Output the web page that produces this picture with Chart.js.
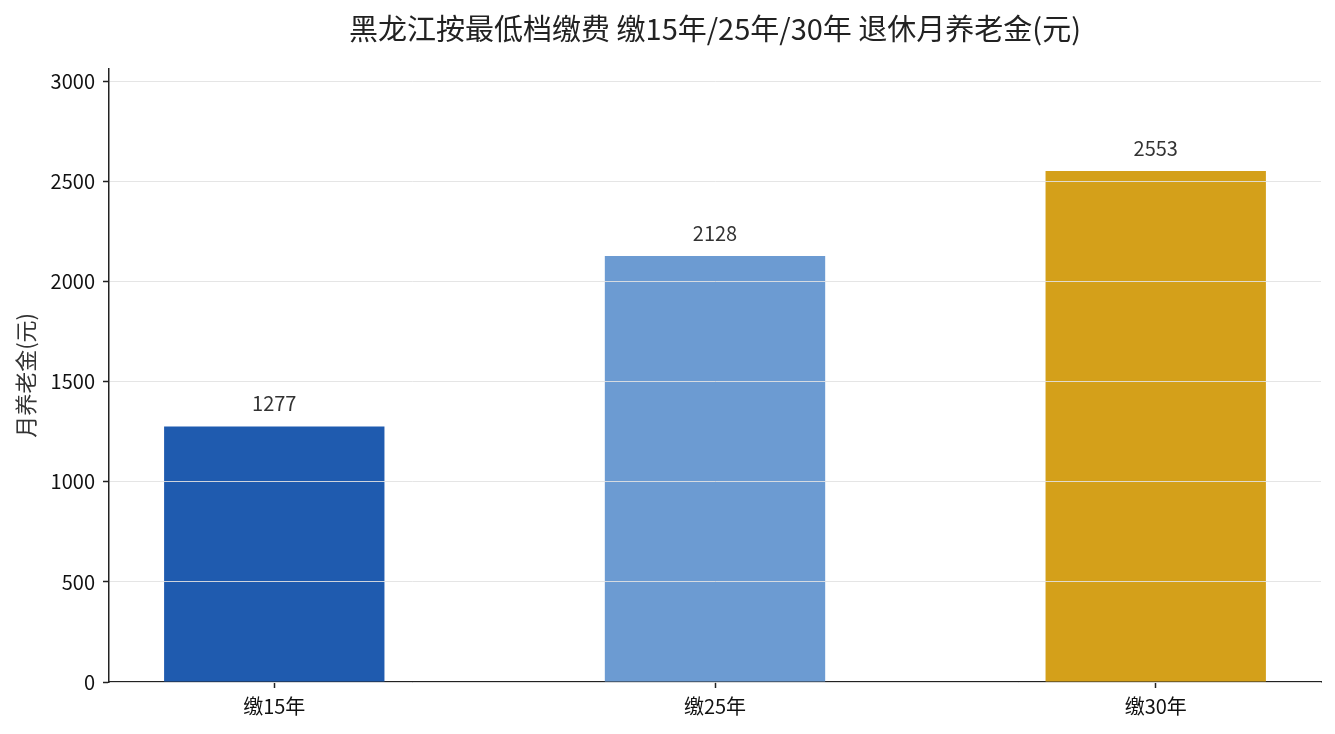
<!DOCTYPE html>
<html>
<head>
<meta charset="utf-8">
<script src="https://cdn.jsdelivr.net/npm/chart.js@4.4.1/dist/chart.umd.min.js"></script>
<style>
  html, body { margin: 0; padding: 0; background: #fff; }
  #wrap { width: 1335px; height: 734px; }
</style>
</head>
<body>
<div id="wrap"><canvas id="pensionChart"></canvas></div>
<script>
// data
const categories = ["缴15年", "缴25年", "缴30年"];
const pension = [1277, 2128, 2553];
const yTicks = [0, 500, 1000, 1500, 2000, 2500, 3000];
const barColors = ["#1f5baf", "#6c9bd2", "#d4a01a"];

const FONT = "'Noto Sans CJK SC', 'Noto Sans', sans-serif";
Chart.defaults.font.family = FONT;

// value labels above each bar
const valueLabels = {
  id: "valueLabels",
  afterDatasetsDraw(chart) {
    const ctx = chart.ctx;
    const meta = chart.getDatasetMeta(0);
    ctx.save();
    ctx.font = "20px " + FONT;
    ctx.fillStyle = "#333";
    ctx.textAlign = "center";
    ctx.textBaseline = "middle";
    meta.data.forEach((bar, i) => {
      ctx.fillText(String(pension[i]), bar.x, bar.y - 23);
    });
    ctx.restore();
  }
};

new Chart(document.getElementById("pensionChart"), {
  type: "bar",
  data: {
    datasets: [{
      data: pension.map((v, i) => ({ x: i, y: v })),
      backgroundColor: barColors,
      barPercentage: 0.5,
      categoryPercentage: 1,
    }],
  },
  options: {
    responsive: true,
    maintainAspectRatio: false,
    animation: false,
    layout: { padding: { left: 0, right: 14, top: 0, bottom: 0 } },
    plugins: {
      legend: { display: false },
      tooltip: { enabled: false },
      title: {
        display: true,
        fullSize: false,
        text: "黑龙江按最低档缴费 缴15年/25年/30年 退休月养老金(元)",
        color: "#222",
        font: { size: 29, weight: "normal" },
        padding: { top: 12, bottom: 22 },
      },
    },
    scales: {
      x: {
        type: "linear",
        min: -0.375,
        max: 2.375,
        offset: false,
        afterBuildTicks: s => { s.ticks = categories.map((c, i) => ({ value: i })); },
        afterFit: s => { s.height = 52; },
        ticks: {
          callback: v => categories[v],
          color: "#111",
          font: { size: 20 },
          padding: 6,
          maxRotation: 0,
        },
        grid: { offset: false, drawOnChartArea: false, tickColor: "#222", tickLength: 6, tickWidth: 1.5 },
        border: { color: "#222", width: 1.5 },
      },
      y: {
        min: 0,
        max: 3064,
        afterBuildTicks: s => { s.ticks = yTicks.map(v => ({ value: v })); },
        afterFit: s => { s.width = 109; },
        ticks: {
          callback: v => String(v),
          color: "#111",
          font: { size: 20 },
          padding: 8,
        },
        title: {
          display: true,
          text: "月养老金(元)",
          color: "#333",
          font: { size: 22 },
          padding: { top: 12, bottom: 6 },
        },
        grid: { color: "#e2e2e2", lineWidth: 0.9, z: 1, tickColor: "#222", tickLength: 6, tickWidth: 1.5 },
        border: { color: "#222", width: 1.5, z: 1 },
      },
    },
  },
  plugins: [valueLabels],
});
</script>
</body>
</html>
